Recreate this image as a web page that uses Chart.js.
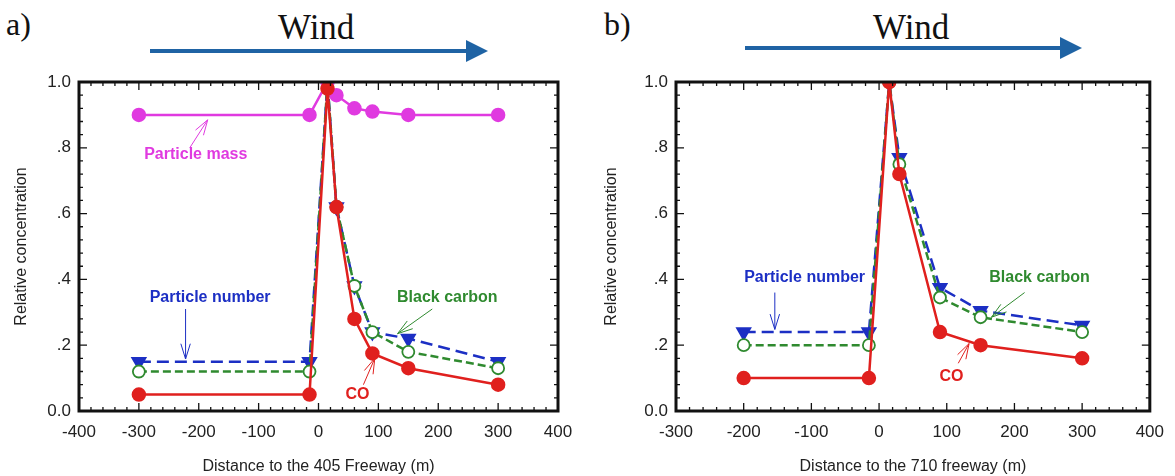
<!DOCTYPE html>
<html lang="en">
<head>
<meta charset="UTF-8">
<title>Relative concentration near freeways</title>
<script src="https://cdn.jsdelivr.net/npm/chart.js"></script>
<style>
  body { margin: 0; width: 1175px; height: 476px; background: #fff; position: relative; overflow: hidden; }
  .panel { position: absolute; top: 0; width: 585px; height: 476px; }
  .tag { position: absolute; top: 6px; font: 32px "Liberation Serif", serif; color: #111; }
  .wind { position: absolute; top: 8px; font: 35px "Liberation Serif", serif; color: #111; }
  svg.arrow { position: absolute; top: 0; left: 0; }
</style>
</head>
<body>
  <div class="tag" style="left:6px">a)</div>
  <div class="wind" style="left:278px">Wind</div>
  <div class="tag" style="left:604px">b)</div>
  <div class="wind" style="left:873px">Wind</div>
  <svg class="arrow" width="1175" height="80">
    <line x1="150" y1="51" x2="468" y2="51" stroke="#1f63a4" stroke-width="4"/>
    <polygon points="466,40 488,51 466,62" fill="#1f63a4"/>
    <line x1="745" y1="48" x2="1062" y2="48" stroke="#1f63a4" stroke-width="4"/>
    <polygon points="1060,37 1082,48 1060,59" fill="#1f63a4"/>
  </svg>
  <div class="panel" style="left:0"><canvas id="chartA"></canvas></div>
  <div class="panel" style="left:590px"><canvas id="chartB"></canvas></div>

<script>
// panel a) 405 freeway
const distA = [-300, -15, 15, 30, 60, 90, 150, 300];
const massA = [0.90, 0.90, 1.0, 0.96, 0.92, 0.91, 0.90, 0.90];
const numberA = [0.15, 0.15, 1.0, 0.62, 0.38, 0.24, 0.22, 0.15];
const carbonA = [0.12, 0.12, 1.0, 0.62, 0.38, 0.24, 0.18, 0.13];
const coA = [0.05, 0.05, 0.98, 0.62, 0.28, 0.175, 0.13, 0.08];

// panel b) 710 freeway
const distB = [-200, -15, 15, 30, 90, 150, 300];
const numberB = [0.24, 0.24, 1.0, 0.77, 0.375, 0.305, 0.26];
const carbonB = [0.20, 0.20, 1.0, 0.75, 0.345, 0.285, 0.24];
const coB = [0.10, 0.10, 1.0, 0.72, 0.24, 0.20, 0.16];

const yTicks = [0, 0.2, 0.4, 0.6, 0.8, 1.0];
const yTickLabels = ['0.0', '.2', '.4', '.6', '.8', '1.0'];

const MAGENTA = '#e03ae0', BLUE = '#1c2fc4', GREEN = '#2f8a2f', RED = '#e0201e';
const SANS = '"Liberation Sans", Arial, sans-serif';

function pairs(xs, ys) {
  return xs.map((x, i) => ({ x: x, y: ys[i] }));
}

// inward ticks on all four sides plus the black frame
const frameTicks = {
  id: 'frameTicks',
  afterDraw(chart) {
    const { ctx, chartArea: a, scales: { x, y } } = chart;
    ctx.save();
    ctx.strokeStyle = '#111';
    ctx.lineWidth = 1.3;
    ctx.beginPath();
    for (let v = x.min; v <= x.max + 1e-6; v += 20) {
      const px = x.getPixelForValue(v);
      const len = Math.abs(v % 100) < 1e-6 ? 8 : 4;
      ctx.moveTo(px, a.bottom); ctx.lineTo(px, a.bottom - len);
      ctx.moveTo(px, a.top); ctx.lineTo(px, a.top + len);
    }
    for (let i = 0; i <= 25; i++) {
      const v = i * 0.04;
      const py = y.getPixelForValue(v);
      const len = i % 5 === 0 ? 8 : 4;
      ctx.moveTo(a.left, py); ctx.lineTo(a.left + len, py);
      ctx.moveTo(a.right, py); ctx.lineTo(a.right - len, py);
    }
    ctx.stroke();
    ctx.lineWidth = 3;
    ctx.strokeRect(a.left, a.top, a.right - a.left, a.bottom - a.top);
    ctx.restore();
  }
};

// labels with small hand-drawn style arrows
const notes = {
  id: 'notes',
  afterDatasetsDraw(chart, args, opts) {
    const { ctx, scales: { x, y } } = chart;
    ctx.save();
    (opts.items || []).forEach(n => {
      ctx.fillStyle = n.color;
      ctx.strokeStyle = n.color;
      ctx.font = 'bold 16px ' + SANS;
      ctx.textAlign = 'center';
      ctx.textBaseline = 'middle';
      ctx.fillText(n.text, x.getPixelForValue(n.x), y.getPixelForValue(n.y));
      const x1 = x.getPixelForValue(n.from[0]), y1 = y.getPixelForValue(n.from[1]);
      const x2 = x.getPixelForValue(n.to[0]), y2 = y.getPixelForValue(n.to[1]);
      const ang = Math.atan2(y2 - y1, x2 - x1);
      ctx.lineWidth = 1;
      ctx.beginPath();
      ctx.moveTo(x1, y1); ctx.lineTo(x2, y2);
      ctx.moveTo(x2, y2); ctx.lineTo(x2 - 16 * Math.cos(ang - 0.3), y2 - 16 * Math.sin(ang - 0.3));
      ctx.moveTo(x2, y2); ctx.lineTo(x2 - 16 * Math.cos(ang + 0.3), y2 - 16 * Math.sin(ang + 0.3));
      ctx.stroke();
    });
    ctx.restore();
  }
};

function seriesStyle(label, data, color, kind) {
  const base = {
    label: label, data: data, borderColor: color, backgroundColor: color,
    borderWidth: 2.5, pointRadius: 6, pointHoverRadius: 6, tension: 0
  };
  if (kind === 'number') {
    return Object.assign(base, { borderDash: [12, 6], pointStyle: 'triangle', pointRotation: 180, pointRadius: 7 });
  }
  if (kind === 'carbon') {
    return Object.assign(base, { borderDash: [8, 4], pointBackgroundColor: '#fff', pointBorderWidth: 1.8 });
  }
  return base;
}

function makeChart(id, datasets, xMin, title, yWidth, padRight, bottom, items) {
  new Chart(document.getElementById(id), {
    type: 'line',
    data: { datasets: datasets },
    options: {
      responsive: true,
      maintainAspectRatio: false,
      animation: false,
      layout: { padding: { top: 82, right: padRight, left: 0, bottom: 0 } },
      plugins: { legend: { display: false }, tooltip: { enabled: false }, notes: { items: items } },
      scales: {
        x: {
          type: 'linear', min: xMin, max: 400,
          grid: { display: false, drawTicks: false },
          border: { display: false },
          ticks: { stepSize: 100, padding: 11, color: '#222', font: { family: SANS, size: 17 } },
          title: { display: true, text: title, color: '#222', font: { family: SANS, size: 16 }, padding: { top: 18, bottom: 0 } },
          afterFit: s => { s.height = 476 - bottom; }
        },
        y: {
          type: 'linear', min: 0, max: 1,
          grid: { display: false, drawTicks: false },
          border: { display: false },
          afterBuildTicks: s => { s.ticks = yTicks.map(v => ({ value: v })); },
          ticks: {
            padding: 8, color: '#222', font: { family: SANS, size: 17 },
            callback: v => yTickLabels[yTicks.findIndex(t => Math.abs(t - v) < 1e-6)]
          },
          title: { display: true, text: 'Relative concentration', color: '#222', font: { family: SANS, size: 16 }, padding: { top: 12, bottom: 4 } },
          afterFit: s => { s.width = yWidth; }
        }
      }
    },
    plugins: [frameTicks, notes]
  });
}

makeChart('chartA', [
  seriesStyle('CO', pairs(distA, coA), RED, 'co'),
  seriesStyle('Particle mass', pairs(distA, massA), MAGENTA, 'mass'),
  seriesStyle('Black carbon', pairs(distA, carbonA), GREEN, 'carbon'),
  seriesStyle('Particle number', pairs(distA, numberA), BLUE, 'number')
], -400, 'Distance to the 405 Freeway (m)', 79, 27, 411, [
  { text: 'Particle mass', color: MAGENTA, x: -205, y: 0.78, from: [-215, 0.8], to: [-185, 0.885] },
  { text: 'Particle number', color: BLUE, x: -181, y: 0.345, from: [-222, 0.31], to: [-222, 0.158] },
  { text: 'Black carbon', color: GREEN, x: 215, y: 0.345, from: [190, 0.31], to: [132, 0.235] },
  { text: 'CO', color: RED, x: 65, y: 0.05, from: [75, 0.08], to: [94, 0.16] }
]);

makeChart('chartB', [
  seriesStyle('CO', pairs(distB, coB), RED, 'co'),
  seriesStyle('Black carbon', pairs(distB, carbonB), GREEN, 'carbon'),
  seriesStyle('Particle number', pairs(distB, numberB), BLUE, 'number')
], -300, 'Distance to the 710 freeway (m)', 86, 22, 411, [
  { text: 'Particle number', color: BLUE, x: -110, y: 0.405, from: [-154, 0.36], to: [-154, 0.248] },
  { text: 'Black carbon', color: GREEN, x: 237, y: 0.405, from: [215, 0.36], to: [166, 0.285] },
  { text: 'CO', color: RED, x: 107, y: 0.105, from: [117, 0.145], to: [133, 0.205] }
]);
</script>
</body>
</html>
